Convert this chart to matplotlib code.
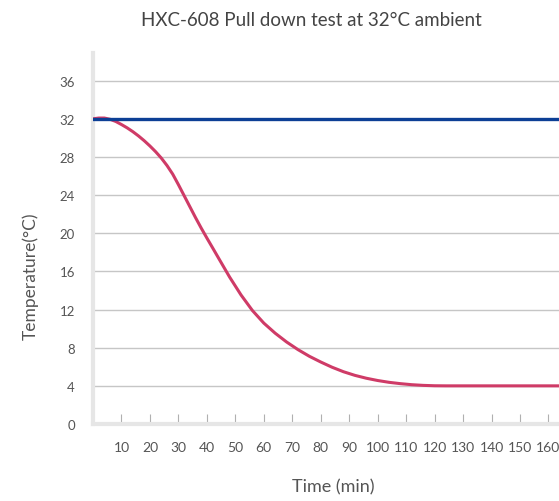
import matplotlib
matplotlib.use("Agg")
import matplotlib.pyplot as plt

# data
time_min = [0, 2, 4, 6, 8, 10, 12, 14, 16, 18, 20, 22, 24, 26, 28, 30, 32, 34,
            36, 38, 40, 42, 44, 48, 52, 56, 60, 64, 68, 72, 76, 80, 84, 88,
            92, 96, 100, 104, 108, 112, 116, 120, 124, 145, 165]
temp_c = [32.0, 32.08, 32.08, 31.95, 31.72, 31.4, 31.05, 30.65, 30.2, 29.7,
          29.15, 28.55, 27.88, 27.1, 26.2, 25.1, 23.95, 22.8, 21.65, 20.55,
          19.5, 18.48, 17.45, 15.4, 13.53, 11.9, 10.58, 9.52, 8.6, 7.8,
          7.1, 6.5, 5.95, 5.48, 5.1, 4.8, 4.56, 4.37, 4.23, 4.12, 4.05,
          4.01, 4.0, 4.0, 4.0]
ambient_c = 32
x_ticks = [10, 20, 30, 40, 50, 60, 70, 80, 90, 100, 110, 120, 130, 140, 150, 160]
y_ticks = [0, 4, 8, 12, 16, 20, 24, 28, 32, 36]

plt.rcParams['font.family'] = ['Lato', 'DejaVu Sans']
text_col = "#555555"

fig = plt.figure(figsize=(5.59, 5.02), dpi=100)
ax = fig.add_axes([93 / 559, 1 - 425 / 502, 1 - 93 / 559, (425 - 54) / 502])

ax.plot(time_min, temp_c, color="#cf3b67", lw=2.2, solid_capstyle="round",
        solid_joinstyle="round", zorder=3)
ax.axhline(ambient_c, color="#0c3f95", lw=2.4, zorder=4)

ax.set_xlim(0, 163.7)
ax.set_ylim(0, 38.9)
ax.set_xticks(x_ticks)
ax.set_yticks(y_ticks)

ax.yaxis.grid(True, color="#c6c6c6", lw=1.0)
ax.set_axisbelow(True)

for side in ("top", "right"):
    ax.spines[side].set_visible(False)
for side in ("left", "bottom"):
    ax.spines[side].set_color("#e6e6e6")
    ax.spines[side].set_linewidth(3)

ax.tick_params(axis="x", direction="in", length=7, width=0.8, color="#b0b0b0",
               labelsize=10, labelcolor=text_col, pad=12)
ax.tick_params(axis="y", length=0, labelsize=9.5, labelcolor=text_col, pad=13)

fig.text(311 / 559, 1 - 20 / 502, "HXC-608 Pull down test at 32°C ambient",
         ha="center", va="center", fontsize=13.5, color="#444444")
fig.text(333 / 559, 1 - 487 / 502, "Time (min)", ha="center", va="center",
         fontsize=13, color=text_col)
fig.text(30 / 559, 1 - 276 / 502, "Temperature(°C)", ha="center", va="center",
         rotation=90, fontsize=12.5, color=text_col)

fig.savefig("out.png", dpi=100)
